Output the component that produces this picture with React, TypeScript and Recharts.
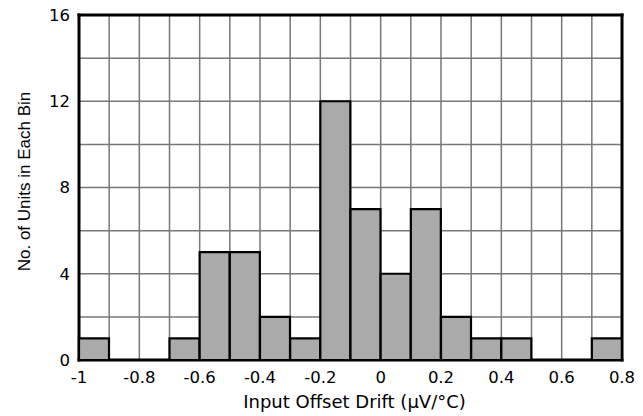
import { ComposedChart, Bar, XAxis, YAxis, CartesianGrid } from 'recharts';

// bin edges (left side of each 0.1-wide bin) and units per bin
const binStarts = [-1, -0.9, -0.8, -0.7, -0.6, -0.5, -0.4, -0.3, -0.2, -0.1, 0, 0.1, 0.2, 0.3, 0.4, 0.5, 0.6, 0.7];
const counts = [1, 0, 0, 1, 5, 5, 2, 1, 12, 7, 4, 7, 2, 1, 1, 0, 0, 1];

const xTicks = [-1, -0.8, -0.6, -0.4, -0.2, 0, 0.2, 0.4, 0.6, 0.8];
const xGrid = [-0.9, -0.8, -0.7, -0.6, -0.5, -0.4, -0.3, -0.2, -0.1, 0, 0.1, 0.2, 0.3, 0.4, 0.5, 0.6, 0.7];
const yTicks = [0, 4, 8, 12, 16];
const yGrid = [2, 4, 6, 8, 10, 12, 14];
const xEdges = [-1, 0.8];
const yEdges = [0, 16];

const data = binStarts.map((b, i) => ({
  bin: String(b),
  center: Math.round((b + 0.05) * 100) / 100,
  units: counts[i],
}));

const wide = '"DejaVu Sans", Verdana, sans-serif';
const narrow = '"Liberation Sans", Arial, sans-serif';
const fmt = (v: number) => String(Math.round(v * 10) / 10);

export default function App() {
  return (
    <div style={{ position: 'absolute', left: 0, top: 0, background: '#fff' }}>
      <ComposedChart
        width={643}
        height={416}
        data={data}
        margin={{ top: 15, right: 21, bottom: 0, left: 0 }}
        barCategoryGap={0}
        barGap={0}
      >
        {/* inner grid: grey verticals every 0.1, black horizontals every 2 */}
        <CartesianGrid
          xAxisId="num"
          verticalValues={xGrid}
          horizontalValues={yGrid}
          stroke="#777"
          strokeWidth={1.5}
          horizontal={{ stroke: '#111', strokeWidth: 1.3 }}
        />
        {/* heavy frame round the plot */}
        <CartesianGrid
          xAxisId="num"
          verticalValues={xEdges}
          horizontalValues={yEdges}
          stroke="#000"
          strokeWidth={3}
          strokeLinecap="square"
        />
        <XAxis xAxisId="cat" dataKey="bin" type="category" hide height={0} />
        <XAxis
          xAxisId="num"
          dataKey="center"
          type="number"
          domain={[-1, 0.8]}
          ticks={xTicks}
          interval={0}
          allowDataOverflow
          tickFormatter={fmt}
          tickLine={false}
          axisLine={false}
          tickSize={0}
          tickMargin={11}
          height={56}
          tick={{ fill: '#000', fontSize: 16.5, fontFamily: wide }}
          label={{
            value: 'Input Offset Drift (\u03bcV/\u00b0C)',
            position: 'insideBottom',
            offset: 8,
            dx: 4,
            style: { fill: '#000', fontSize: 18, fontFamily: wide },
          }}
        />
        <YAxis
          domain={[0, 16]}
          ticks={yTicks}
          width={79}
          tickLine={false}
          axisLine={false}
          tickSize={0}
          tickMargin={9}
          tick={{ fill: '#000', fontSize: 16.5, fontFamily: wide }}
          label={{
            value: 'No. of Units in Each Bin',
            angle: -90,
            position: 'insideLeft',
            offset: 24,
            dy: -6,
            style: { fill: '#000', fontSize: 17, fontFamily: narrow, textAnchor: 'middle' },
          }}
        />
        <Bar
          xAxisId="cat"
          dataKey="units"
          fill="#aaaaaa"
          stroke="#000"
          strokeWidth={2.2}
          isAnimationActive={false}
        />
      </ComposedChart>
    </div>
  );
}
